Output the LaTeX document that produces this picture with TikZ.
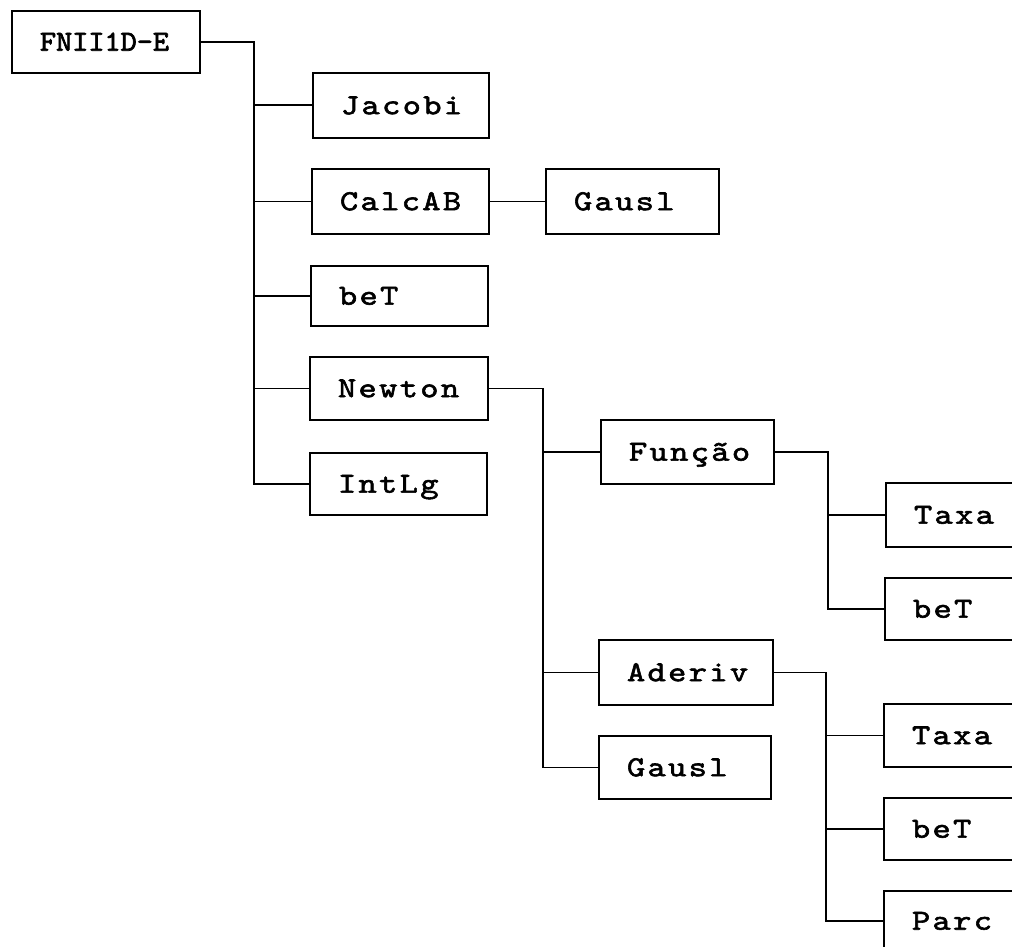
\documentclass[tikz,border=0pt]{standalone}
\usepackage{fontspec}
% wide typewriter-like labels
\newfontfamily\boxfont{lmmono10-regular.otf}[FakeStretch=1.2,LetterSpace=8,FakeBold=2]
\newfontfamily\rootfont{lmmono10-regular.otf}[FakeStretch=1.06,LetterSpace=0,FakeBold=2.5]
% label set flush left in a box of total width #1 (28pt padding each side)
\newcommand\lbl[2]{\makebox[\dimexpr#1pt-56pt\relax][l]{#2}}
\tikzset{
  box/.style={draw, line width=1.9pt, anchor=north west, inner xsep=28pt, inner ysep=0pt,
    text height=17.5pt, text depth=0pt, font=\boxfont\fontsize{29}{31}\selectfont},
  rootbox/.style={box, font=\rootfont\fontsize{29}{31}\selectfont},
  link/.style={line width=1.9pt}
}
\begin{document}
\begin{tikzpicture}[x=1pt,y=-1pt]
\useasboundingbox (0,0) rectangle (1012,947);
\fill[white] (0,0) rectangle (1012,947);
\clip (0,0) rectangle (1012,947);

% first level
\node[rootbox, minimum height=62pt] (FN) at (11,10) {\lbl{188}{FNII1D-E}};
\node[box, minimum height=65pt] (Jacobi) at (312,72) {\lbl{176}{Jacobi}};
\node[box, minimum height=65pt] (CalcAB) at (311,168) {\lbl{177}{CalcAB}};
\node[box, minimum height=65pt] (GauslA) at (545,168) {\lbl{173}{Gausl}};
\node[box, minimum height=60pt] (beTa) at (310,265) {\lbl{177}{beT}};
\node[box, minimum height=63pt] (Newton) at (309,356) {\lbl{178}{Newton}};
\node[box, minimum height=62pt] (IntLg) at (309,452) {\lbl{177}{IntLg}};

% Newton's calls
\node[box, minimum height=64pt] (Funcao) at (600,419) {\lbl{173}{Função}};
\node[box, minimum height=65pt] (Aderiv) at (598,639) {\lbl{174}{Aderiv}};
\node[box, minimum height=63pt] (GauslB) at (598,735) {\lbl{172}{Gausl}};

% third level (running off the right edge)
\node[box, minimum height=64pt] (TaxaA) at (885,482) {\lbl{180}{Taxa}};
\node[box, minimum height=62pt] (beTb) at (884,577) {\lbl{180}{beT}};
\node[box, minimum height=63pt] (TaxaB) at (883,703) {\lbl{180}{Taxa}};
\node[box, minimum height=62pt] (beTc) at (883,797) {\lbl{180}{beT}};
\node[box, minimum height=60pt] (Parc) at (883,890) {\lbl{180}{Parc}};

% trunk of FNII1D-E
\coordinate (t1) at (254,0);
\draw[link] (FN.east) -| (t1 |- IntLg.west) -- (IntLg.west);
\foreach \n in {Jacobi,CalcAB,beTa,Newton}
  \draw[link] (t1 |- \n.west) -- (\n.west);
\draw[link] (CalcAB.east) -- (GauslA.west);

% trunk of Newton
\coordinate (t2) at (543,0);
\draw[link] (Newton.east) -| (t2 |- GauslB.west) -- (GauslB.west);
\foreach \n in {Funcao,Aderiv}
  \draw[link] (t2 |- \n.west) -- (\n.west);

% trunk of Função
\coordinate (t3) at (828,0);
\draw[link] (Funcao.east) -| (t3 |- beTb.west) -- (beTb.west);
\draw[link] (t3 |- TaxaA.west) -- (TaxaA.west);

% trunk of Aderiv
\coordinate (t4) at (826,0);
\draw[link] (Aderiv.east) -| (t4 |- Parc.west) -- (Parc.west);
\foreach \n in {TaxaB,beTc}
  \draw[link] (t4 |- \n.west) -- (\n.west);
\end{tikzpicture}
\end{document}
